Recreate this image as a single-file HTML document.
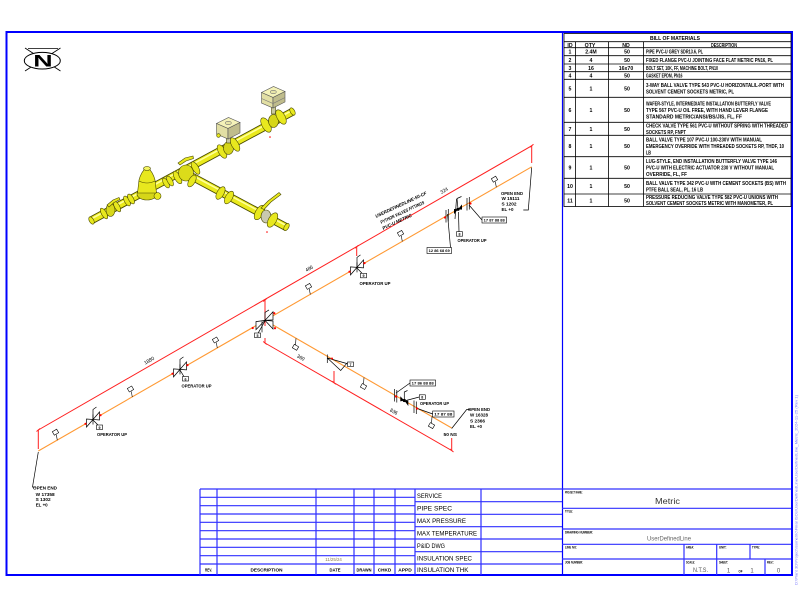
<!DOCTYPE html>
<html><head><meta charset="utf-8"><style>
html,body{margin:0;padding:0;background:#fff;}
svg{display:block;}
text{font-family:"Liberation Sans",sans-serif;}
</style></head><body>
<svg width="800" height="600" viewBox="0 0 800 600" xmlns="http://www.w3.org/2000/svg" xmlns:xlink="http://www.w3.org/1999/xlink">
<defs>
<g id="vm">
<polygon points="0,0 -6.5,-0.5 -6.5,7.5" fill="#fff" stroke="#000" stroke-width="0.7"/>
<polygon points="0,0 6.5,-7.5 6.5,0.5" fill="#fff" stroke="#000" stroke-width="0.7"/>
<line x1="0" y1="-5" x2="0" y2="5" stroke="#000" stroke-width="0.7"/>
<polyline points="0,0 0,-10 3.5,-12.5" fill="none" stroke="#000" stroke-width="0.7"/>
<circle cx="-7.5" cy="4.3" r="1.1" fill="#f00"/>
<circle cx="7.5" cy="-4.3" r="1.1" fill="#f00"/>
</g>
</defs>
<rect width="800" height="600" fill="#fff"/>

<!-- frame -->
<rect x="6.5" y="32" width="785.5" height="543" fill="none" stroke="#0000ff" stroke-width="2"/>
<line x1="562.5" y1="32" x2="562.5" y2="575" stroke="#0000ff" stroke-width="1.2"/>

<!-- BOM table -->
<g stroke="#000" stroke-width="0.8" fill="none">
<rect x="564" y="33.5" width="227" height="173"/>
<line x1="564" y1="41.7" x2="791" y2="41.7"/>
<line x1="564" y1="47.7" x2="791" y2="47.7"/>
<line x1="564" y1="55.7" x2="791" y2="55.7"/>
<line x1="564" y1="64" x2="791" y2="64"/>
<line x1="564" y1="71.7" x2="791" y2="71.7"/>
<line x1="564" y1="79.3" x2="791" y2="79.3"/>
<line x1="564" y1="97.3" x2="791" y2="97.3"/>
<line x1="564" y1="122.3" x2="791" y2="122.3"/>
<line x1="564" y1="135.3" x2="791" y2="135.3"/>
<line x1="564" y1="156.7" x2="791" y2="156.7"/>
<line x1="564" y1="178.3" x2="791" y2="178.3"/>
<line x1="564" y1="194" x2="791" y2="194"/>
<line x1="575.6" y1="41.7" x2="575.6" y2="206.5"/>
<line x1="608.6" y1="41.7" x2="608.6" y2="206.5"/>
<line x1="643.4" y1="41.7" x2="643.4" y2="206.5"/>
</g>
<g font-size="5.2" font-weight="bold" fill="#000">
<text x="675" y="39.8" text-anchor="middle" textLength="50" lengthAdjust="spacingAndGlyphs">BILL OF MATERIALS</text>
<text x="570" y="46.8" text-anchor="middle">ID</text>
<text x="590" y="46.8" text-anchor="middle">QTY</text>
<text x="626" y="46.8" text-anchor="middle">ND</text>
<text x="724" y="46.8" text-anchor="middle" textLength="26" lengthAdjust="spacingAndGlyphs">DESCRIPTION</text>

<text x="570" y="53.7" text-anchor="middle">1</text><text x="591" y="53.7" text-anchor="middle">2.4M</text><text x="627" y="53.7" text-anchor="middle">50</text>
<text x="646" y="53.7" textLength="57" lengthAdjust="spacingAndGlyphs">PIPE PVC-U GREY SDR13.6, PL</text>

<text x="570" y="61.8" text-anchor="middle">2</text><text x="591" y="61.8" text-anchor="middle">4</text><text x="627" y="61.8" text-anchor="middle">50</text>
<text x="646" y="61.8" textLength="127" lengthAdjust="spacingAndGlyphs">FIXED FLANGE PVC-U JOINTING FACE FLAT METRIC PN16, PL</text>

<text x="570" y="69.8" text-anchor="middle">3</text><text x="591" y="69.8" text-anchor="middle">16</text><text x="626" y="69.8" text-anchor="middle">16x70</text>
<text x="646" y="69.8" textLength="72" lengthAdjust="spacingAndGlyphs">BOLT SET, 10K, FF, MACHINE BOLT, PN10</text>

<text x="570" y="77.5" text-anchor="middle">4</text><text x="591" y="77.5" text-anchor="middle">4</text><text x="627" y="77.5" text-anchor="middle">50</text>
<text x="646" y="77.5" textLength="36.5" lengthAdjust="spacingAndGlyphs">GASKET EPDM, PN16</text>

<text x="570" y="90.3" text-anchor="middle">5</text><text x="591" y="90.3" text-anchor="middle">1</text><text x="627" y="90.3" text-anchor="middle">50</text>
<text x="646" y="87" textLength="138" lengthAdjust="spacingAndGlyphs">3-WAY BALL VALVE TYPE 543 PVC-U HORIZONTAL/L-PORT WITH</text>
<text x="646" y="93.5" textLength="88" lengthAdjust="spacingAndGlyphs">SOLVENT CEMENT SOCKETS METRIC, PL</text>

<text x="570" y="111.8" text-anchor="middle">6</text><text x="591" y="111.8" text-anchor="middle">1</text><text x="627" y="111.8" text-anchor="middle">50</text>
<text x="646" y="105.3" textLength="125" lengthAdjust="spacingAndGlyphs">WAFER-STYLE, INTERMEDIATE INSTALLATION BUTTERFLY VALVE</text>
<text x="646" y="111.8" textLength="122" lengthAdjust="spacingAndGlyphs">TYPE 567 PVC-U OIL FREE, WITH HAND LEVER FLANGE</text>
<text x="646" y="118.3" textLength="96" lengthAdjust="spacingAndGlyphs">STANDARD METRIC/ANSI/BS/JIS, FL, FF</text>

<text x="570" y="130.8" text-anchor="middle">7</text><text x="591" y="130.8" text-anchor="middle">1</text><text x="627" y="130.8" text-anchor="middle">50</text>
<text x="646" y="127.6" textLength="142" lengthAdjust="spacingAndGlyphs">CHECK VALVE TYPE 561 PVC-U WITHOUT SPRING WITH THREADED</text>
<text x="646" y="134" textLength="40" lengthAdjust="spacingAndGlyphs">SOCKETS RP, FNPT</text>

<text x="570" y="148" text-anchor="middle">8</text><text x="591" y="148" text-anchor="middle">1</text><text x="627" y="148" text-anchor="middle">50</text>
<text x="646" y="141.5" textLength="116" lengthAdjust="spacingAndGlyphs">BALL VALVE TYPE 107 PVC-U 100-230V WITH MANUAL</text>
<text x="646" y="148" textLength="138" lengthAdjust="spacingAndGlyphs">EMERGENCY OVERRIDE WITH THREADED SOCKETS RP, THDF, 10</text>
<text x="646" y="154.5" textLength="5" lengthAdjust="spacingAndGlyphs">LB</text>

<text x="570" y="169.5" text-anchor="middle">9</text><text x="591" y="169.5" text-anchor="middle">1</text><text x="627" y="169.5" text-anchor="middle">50</text>
<text x="646" y="163" textLength="131" lengthAdjust="spacingAndGlyphs">LUG-STYLE, END INSTALLATION BUTTERFLY VALVE TYPE 146</text>
<text x="646" y="169.5" textLength="128" lengthAdjust="spacingAndGlyphs">PVC-U WITH ELECTRIC ACTUATOR 230 V WITHOUT MANUAL</text>
<text x="646" y="176" textLength="41" lengthAdjust="spacingAndGlyphs">OVERRIDE, FL, FF</text>

<text x="570" y="188.2" text-anchor="middle">10</text><text x="591" y="188.2" text-anchor="middle">1</text><text x="627" y="188.2" text-anchor="middle">50</text>
<text x="646" y="185" textLength="140" lengthAdjust="spacingAndGlyphs">BALL VALVE TYPE 342 PVC-U WITH CEMENT SOCKETS (BS) WITH</text>
<text x="646" y="191.4" textLength="57" lengthAdjust="spacingAndGlyphs">PTFE BALL SEAL, PL, 16 LB</text>

<text x="570" y="202.3" text-anchor="middle">11</text><text x="591" y="202.3" text-anchor="middle">1</text><text x="627" y="202.3" text-anchor="middle">50</text>
<text x="646" y="199.1" textLength="132" lengthAdjust="spacingAndGlyphs">PRESSURE REDUCING VALVE TYPE 582 PVC-U UNIONS WITH</text>
<text x="646" y="205.2" textLength="127" lengthAdjust="spacingAndGlyphs">SOLVENT CEMENT SOCKETS METRIC WITH MANOMETER, PL</text>
</g>

<!-- North symbol -->
<g stroke="#000" stroke-width="0.8">
<line x1="25" y1="48" x2="60.5" y2="71"/>
<line x1="60.5" y1="48" x2="25" y2="71"/>
<line x1="28" y1="48.5" x2="58" y2="48.5"/>
</g>
<ellipse cx="42.3" cy="60.7" rx="18" ry="8.3" fill="#fff" stroke="#000" stroke-width="1"/>
<text x="33.3" y="66.7" font-size="17" font-weight="bold" textLength="19.4" lengthAdjust="spacingAndGlyphs">N</text>

<!-- 3D model -->
<g stroke-linecap="butt">
<line x1="91" y1="220.5" x2="293" y2="111.5" stroke="#4a4a00" stroke-width="8"/>
<line x1="187" y1="174" x2="287" y2="227.5" stroke="#4a4a00" stroke-width="8"/>
<line x1="91" y1="220.5" x2="293" y2="111.5" stroke="#eaea1c" stroke-width="6.2"/>
<line x1="187" y1="174" x2="287" y2="227.5" stroke="#eaea1c" stroke-width="6.2"/>
<line x1="91" y1="219" x2="293" y2="110" stroke="#ffff99" stroke-width="1.6"/>
<line x1="187" y1="172.5" x2="287" y2="226" stroke="#ffff99" stroke-width="1.6"/>
</g>
<g stroke="#4a4a00" stroke-width="0.6" fill="#e8e81e">
<ellipse cx="91.5" cy="220.5" rx="2.2" ry="4" transform="rotate(-30 91.5 220.5)"/>
<ellipse cx="292.5" cy="111.5" rx="2.2" ry="4" transform="rotate(-30 292.5 111.5)"/>
<ellipse cx="286.5" cy="227" rx="2.2" ry="4" transform="rotate(30 286.5 227)"/>
<!-- left ball valve -->
<ellipse cx="104" cy="213.5" rx="2.5" ry="6" transform="rotate(-30 104 213.5)"/>
<ellipse cx="110.5" cy="210" rx="4.5" ry="6.5" fill="#d8d81a"/>
<ellipse cx="117" cy="206.5" rx="2.5" ry="6" transform="rotate(-30 117 206.5)"/>
<polygon points="107,205 113,200 119,197.5 120,199.5 114,202.5 109,207"/>
<!-- union -->
<ellipse cx="127" cy="201" rx="2.5" ry="5.5" transform="rotate(-30 127 201)"/>
<ellipse cx="131" cy="199" rx="2.5" ry="5.5" transform="rotate(-30 131 199)"/>
<!-- pressure reducing valve -->
<ellipse cx="147" cy="194" rx="10" ry="6" fill="#d6d618"/>
<path d="M137.5,193 L139,180 Q141,172 147,166.5 Q153,172 155,180 L156.5,193 Z"/>
<path d="M139,181 Q147,185 155,181" fill="none"/>
<ellipse cx="147" cy="168.5" rx="3.5" ry="2" fill="#f4f460"/>
<circle cx="157.5" cy="196" r="3.5"/>
<!-- union -->
<ellipse cx="166" cy="183" rx="2.5" ry="5.5" transform="rotate(-30 166 183)"/>
<ellipse cx="170" cy="181" rx="2.5" ry="5.5" transform="rotate(-30 170 181)"/>
<!-- 3-way valve -->
<ellipse cx="177.5" cy="177.5" rx="3" ry="7" transform="rotate(-30 177.5 177.5)"/>
<ellipse cx="186" cy="173" rx="7.5" ry="8" fill="#dcdc1a"/>
<ellipse cx="195.5" cy="168" rx="3" ry="7" transform="rotate(-30 195.5 168)"/>
<ellipse cx="192" cy="181" rx="3.2" ry="6.5" transform="rotate(30 192 181)"/>
<polygon points="178,163 185,158 193,156 193.5,158.5 186,161 180,165"/>
<!-- flanged valve 1 -->
<ellipse cx="222" cy="151.5" rx="3.5" ry="7.5" transform="rotate(-30 222 151.5)"/>
<ellipse cx="228.5" cy="148" rx="5" ry="6.5" fill="#d6d618"/>
<ellipse cx="235" cy="144.5" rx="3.5" ry="7.5" transform="rotate(-30 235 144.5)"/>
<rect x="226.5" y="137" width="4" height="6" fill="#c8c8a0"/>
<polygon points="216.5,123.5 228.5,117.5 240,122.5 228,128.5" fill="#f4f2b8" stroke="#555"/>
<polygon points="216.5,123.5 228,128.5 228,139 216.5,134" fill="#e2dfa4" stroke="#555"/>
<polygon points="228,128.5 240,122.5 240,133 228,139" fill="#bfbc8c" stroke="#555"/>
<ellipse cx="228.3" cy="123" rx="3" ry="1.7" fill="#e8e6a8" stroke="#777"/>
<circle cx="218.5" cy="135.5" r="1.8"/>
<!-- flanged valve 2 -->
<ellipse cx="266" cy="125" rx="4" ry="8" transform="rotate(-30 266 125)"/>
<ellipse cx="273.5" cy="121" rx="5" ry="6.5" fill="#d6d618"/>
<ellipse cx="281" cy="117" rx="4" ry="8" transform="rotate(-30 281 117)"/>
<rect x="271.5" y="106" width="4" height="8" fill="#c8c8a0"/>
<polygon points="261.5,92.5 273.5,86.5 285,91.5 273,97.5" fill="#f4f2b8" stroke="#555"/>
<polygon points="261.5,92.5 273,97.5 273,108 261.5,103" fill="#e2dfa4" stroke="#555"/>
<polygon points="273,97.5 285,91.5 285,102 273,108" fill="#bfbc8c" stroke="#555"/>
<polyline points="261.5,98.5 273,103.5 285,97.5" fill="none" stroke="#777"/>
<ellipse cx="273.3" cy="92" rx="3" ry="1.7" fill="#e8e6a8" stroke="#777"/>
<!-- branch union -->
<ellipse cx="220.5" cy="193" rx="3.5" ry="7" transform="rotate(30 220.5 193)"/>
<ellipse cx="229" cy="197.5" rx="3.5" ry="7" transform="rotate(30 229 197.5)"/>
<!-- branch ball valve -->
<ellipse cx="259.5" cy="212.5" rx="4" ry="8" transform="rotate(30 259.5 212.5)"/>
<ellipse cx="266" cy="216.5" rx="5" ry="6.5" fill="#c9c9b0"/>
<ellipse cx="272.5" cy="220" rx="4" ry="8" transform="rotate(30 272.5 220)"/>
<polygon points="261,208 268,201 279,192.5 281,194.5 271,202 264,209.5"/>
</g>
<circle cx="270" cy="137" r="0.8" fill="#f00"/>
<circle cx="267" cy="232" r="0.8" fill="#f00"/>

<!-- ISO: pipes -->
<line x1="38.3" y1="451" x2="531.7" y2="166.8" stroke="#ff9933" stroke-width="1.1"/>
<line x1="265" y1="320.4" x2="451.7" y2="428" stroke="#ff9933" stroke-width="1.1"/>
<!-- red dimension lines -->
<g stroke="#ff2020" stroke-width="1" fill="none">
<polyline points="38.3,449 38.3,430 531.7,145.8 531.7,163"/>
<line x1="265" y1="300" x2="265" y2="326"/>
<line x1="265" y1="338" x2="265" y2="343"/>
<polyline points="265,343 451.7,450.5 451.7,438"/>
<line x1="356.7" y1="246.7" x2="356.7" y2="256"/>
<line x1="334" y1="371" x2="334" y2="382.7"/>
<line x1="36.5" y1="431.5" x2="40.1" y2="428.5"/>
<line x1="263.2" y1="301.5" x2="266.8" y2="298.5"/>
<line x1="354.9" y1="248.2" x2="358.5" y2="245.2"/>
<line x1="529.9" y1="147.3" x2="533.5" y2="144.3"/>
<line x1="263.2" y1="341.5" x2="266.8" y2="344.5"/>
<line x1="332.2" y1="381.2" x2="335.8" y2="384.2"/>
<line x1="449.9" y1="449" x2="453.5" y2="452"/>
</g>

<!-- dimension texts -->
<g font-size="5" fill="#000">
<text transform="translate(150,362) rotate(-30)" text-anchor="middle" textLength="11" lengthAdjust="spacingAndGlyphs">1880</text>
<text transform="translate(310,270) rotate(-30)" text-anchor="middle" textLength="8" lengthAdjust="spacingAndGlyphs">486</text>
<text transform="translate(445,192) rotate(-30)" text-anchor="middle" textLength="8" lengthAdjust="spacingAndGlyphs">324</text>
<text transform="translate(300,359) rotate(30)" text-anchor="middle" textLength="8" lengthAdjust="spacingAndGlyphs">360</text>
<text transform="translate(393,413) rotate(30)" text-anchor="middle" textLength="8" lengthAdjust="spacingAndGlyphs">836</text>
</g>
<g font-size="4.6" font-weight="bold" fill="#000">
<text transform="translate(376,218) rotate(-25) skewX(-10)" textLength="56" lengthAdjust="spacingAndGlyphs">USERDEFINEDLINE-50-CF</text>
<text transform="translate(381,224) rotate(-25) skewX(-10)" textLength="48" lengthAdjust="spacingAndGlyphs">PYTHON VALVES FITTINGS</text>
<text transform="translate(383,230) rotate(-25) skewX(-10)" textLength="32" lengthAdjust="spacingAndGlyphs">PVC-U METRIC</text>
</g>

<!-- pipe labels -->
<g fill="#fff" stroke="#000" stroke-width="0.6">
<line x1="57.3" y1="440.2" x2="56.3" y2="434.7"/><rect x="-2.5" y="-2" width="5" height="4" transform="translate(55.5,432.2) rotate(-30)"/>
<line x1="132.3" y1="397" x2="131.3" y2="391.5"/><rect x="-2.5" y="-2" width="5" height="4" transform="translate(130.5,389) rotate(-30)"/>
<line x1="217.3" y1="348" x2="216.3" y2="342.5"/><rect x="-2.5" y="-2" width="5" height="4" transform="translate(215.5,340) rotate(-30)"/>
<line x1="310.3" y1="294.4" x2="309.3" y2="288.9"/><rect x="-2.5" y="-2" width="5" height="4" transform="translate(308.5,286.4) rotate(-30)"/>
<line x1="402.3" y1="241.4" x2="401.3" y2="235.9"/><rect x="-2.5" y="-2" width="5" height="4" transform="translate(400.5,233.4) rotate(-30)"/>
<line x1="496.3" y1="187.2" x2="495.3" y2="181.7"/><rect x="-2.5" y="-2" width="5" height="4" transform="translate(494.5,179.2) rotate(-30)"/>
<line x1="296" y1="338.3" x2="295.5" y2="345"/><rect x="-2.5" y="-2" width="5" height="4" transform="translate(295.5,347.3) rotate(30)"/>
<line x1="364" y1="377.5" x2="363.5" y2="384.2"/><rect x="-2.5" y="-2" width="5" height="4" transform="translate(363.5,386.5) rotate(30)"/>
<line x1="432" y1="416.6" x2="431.5" y2="423.3"/><rect x="-2.5" y="-2" width="5" height="4" transform="translate(431.5,425.6) rotate(30)"/>
</g>

<!-- valves -->
<use xlink:href="#vm" href="#vm" x="93" y="419.5"/>
<use xlink:href="#vm" href="#vm" x="180" y="369.4"/>
<use xlink:href="#vm" href="#vm" x="357" y="267.4"/>
<!-- 3-way -->
<g transform="translate(265,320.4)" fill="#fff" stroke="#000" stroke-width="0.7">
<polygon points="0,0 -9,1.2 -9,9.2"/>
<polygon points="0,0 8,-8.6 8,-0.6"/>
<polygon points="0,0 8,0.6 8,8.6"/>
<polyline points="0,0 0,-8 4,-10.5" fill="none"/>
<line x1="-3" y1="1" x2="-3" y2="12"/>
<circle cx="-12.3" cy="7.6" r="1.1" fill="#f00" stroke="none"/>
<circle cx="9.3" cy="-7.2" r="1.1" fill="#f00" stroke="none"/>
<circle cx="10" cy="7.8" r="1.1" fill="#f00" stroke="none"/>
</g>
<!-- check valve -->
<g fill="none" stroke="#000" stroke-width="0.7">
<line x1="327.3" y1="354.5" x2="327.3" y2="363"/>
<polygon points="327.3,358 346.7,363.5 340.7,370.5"/>
<line x1="346.7" y1="363.5" x2="348" y2="364"/>
</g>
<!-- flanges -->
<g stroke="#000" stroke-width="0.7">
<line x1="446" y1="210" x2="446" y2="222.5"/><line x1="448.3" y1="209" x2="448.3" y2="221.5"/>
<line x1="467" y1="198" x2="467" y2="210.5"/><line x1="469.3" y1="197" x2="469.3" y2="209.5"/>
<line x1="394.5" y1="389" x2="394.5" y2="401.5"/><line x1="396.8" y1="390" x2="396.8" y2="402.5"/>
<line x1="414" y1="400.5" x2="414" y2="413"/><line x1="416.3" y1="401.5" x2="416.3" y2="414"/>
<!-- leaders -->
<line x1="447.5" y1="214" x2="450.5" y2="247.5"/>
<line x1="469" y1="205" x2="482" y2="220"/>
<line x1="396" y1="393" x2="410" y2="383"/>
<line x1="416" y1="408" x2="432.7" y2="414"/>
<!-- black valve main -->
<line x1="456.5" y1="199" x2="455" y2="219"/>
<polyline points="458,209 457,198.5 461.5,196.5" fill="none"/>
<line x1="458.5" y1="212" x2="459" y2="231.7"/>
<!-- black valve branch -->
<polyline points="404.3,400.5 404.3,392 407.5,390.5" fill="none"/>
<line x1="406" y1="400.5" x2="419.3" y2="397"/>
<!-- open end leaders -->
<polyline points="38.3,452 32.5,487 36,487" fill="none"/>
<polyline points="531.7,167.5 528.3,210 523.3,210" fill="none"/>
<polyline points="451.7,428.5 466.7,409.5 470,409.5" fill="none"/>
<line x1="265" y1="321" x2="258" y2="333.3"/>
<line x1="357" y1="268" x2="362" y2="273.3"/>
<line x1="93" y1="420" x2="98" y2="425"/>
<line x1="180" y1="370" x2="184" y2="376.7"/>
</g>
<g fill="#000">
<polygon points="458,209.3 454,209 454,214.2"/>
<polygon points="458,209.3 462,204.4 462,209.6"/>
<circle cx="458" cy="209.3" r="1.6"/>
<polygon points="404.3,400.5 400.3,396.2 400.3,401.4"/>
<polygon points="404.3,400.5 408.3,400.8 408.3,406"/>
<circle cx="404.3" cy="400.5" r="1.6"/>
</g>
<g fill="#f00">
<circle cx="445" cy="217.5" r="1.1"/>
<circle cx="470.5" cy="203.5" r="1.1"/>
<circle cx="396" cy="396.5" r="1.1"/>
<circle cx="417" cy="408.5" r="1.1"/>
<circle cx="332" cy="358.5" r="1"/>
</g>

<!-- small number boxes -->
<g fill="#fff" stroke="#000" stroke-width="0.6">
<rect x="96.5" y="425" width="6" height="4.5"/>
<rect x="182.5" y="376.5" width="6" height="4.5"/>
<rect x="254.5" y="333" width="6" height="4.5"/>
<rect x="360.5" y="273.3" width="6" height="4.5"/>
<rect x="347.5" y="362" width="6" height="4.5"/>
<rect x="456.5" y="231.7" width="6" height="4.5"/>
<rect x="419.3" y="394.8" width="6" height="4.5"/>
<rect x="427" y="247.5" width="24.5" height="6"/>
<rect x="482" y="217" width="24.5" height="6"/>
<rect x="410" y="380" width="25.5" height="6"/>
<rect x="432.7" y="411" width="21.3" height="6"/>
</g>
<g font-size="3.6" font-weight="bold" fill="#000" text-anchor="middle">
<text x="99.5" y="428.8">9</text>
<text x="185.5" y="380.3">6</text>
<text x="257.5" y="336.8">5</text>
<text x="363.5" y="277">9</text>
<text x="350.5" y="365.8">7</text>
<text x="459.5" y="235.5">8</text>
<text x="422.3" y="398.6">8</text>
<text x="439.2" y="252" textLength="21" lengthAdjust="spacingAndGlyphs">12 86 68 69</text>
<text x="494.2" y="221.5" textLength="21" lengthAdjust="spacingAndGlyphs">17 87 88 88</text>
<text x="422.7" y="384.5" textLength="22" lengthAdjust="spacingAndGlyphs">17 86 88 88</text>
<text x="443.3" y="415.5" textLength="18" lengthAdjust="spacingAndGlyphs">17 87 88</text>
</g>

<!-- iso labels -->
<g font-size="4.6" font-weight="bold" fill="#000">
<text x="97" y="436" textLength="30" lengthAdjust="spacingAndGlyphs">OPERATOR UP</text>
<text x="181.5" y="387.6" textLength="30" lengthAdjust="spacingAndGlyphs">OPERATOR UP</text>
<text x="359.5" y="285" textLength="31" lengthAdjust="spacingAndGlyphs">OPERATOR UP</text>
<text x="457.5" y="242" textLength="29" lengthAdjust="spacingAndGlyphs">OPERATOR UP</text>
<text x="420" y="405" textLength="29" lengthAdjust="spacingAndGlyphs">OPERATOR UP</text>
<text x="33" y="489.5" textLength="24" lengthAdjust="spacingAndGlyphs">OPEN END</text>
<text x="35.7" y="495.8" textLength="19" lengthAdjust="spacingAndGlyphs">W 17358</text>
<text x="35.7" y="501.2" textLength="15" lengthAdjust="spacingAndGlyphs">S 1302</text>
<text x="35.7" y="506.6" textLength="12" lengthAdjust="spacingAndGlyphs">EL +0</text>
<text x="501" y="194.8" textLength="22" lengthAdjust="spacingAndGlyphs">OPEN END</text>
<text x="501.5" y="200.2" textLength="18" lengthAdjust="spacingAndGlyphs">W 15111</text>
<text x="501.5" y="205.6" textLength="15" lengthAdjust="spacingAndGlyphs">S 1202</text>
<text x="501.5" y="211" textLength="12" lengthAdjust="spacingAndGlyphs">EL +0</text>
<text x="468" y="410.8" textLength="22" lengthAdjust="spacingAndGlyphs">OPEN END</text>
<text x="470" y="416.6" textLength="18" lengthAdjust="spacingAndGlyphs">W 16328</text>
<text x="470" y="422.4" textLength="15" lengthAdjust="spacingAndGlyphs">S 2366</text>
<text x="470" y="428.2" textLength="12" lengthAdjust="spacingAndGlyphs">EL +0</text>
<text x="443.5" y="436" textLength="13.5" lengthAdjust="spacingAndGlyphs">50 NS</text>
</g>

<!-- title block left -->
<g stroke="#3030ff" stroke-width="1.2" fill="none">
<line x1="200" y1="489" x2="562" y2="489"/>
<line x1="200" y1="497.3" x2="415" y2="497.3"/>
<line x1="200" y1="505.7" x2="415" y2="505.7"/>
<line x1="200" y1="514" x2="415" y2="514"/>
<line x1="200" y1="522.3" x2="415" y2="522.3"/>
<line x1="200" y1="530.7" x2="415" y2="530.7"/>
<line x1="200" y1="539" x2="415" y2="539"/>
<line x1="200" y1="547.3" x2="415" y2="547.3"/>
<line x1="200" y1="555.7" x2="415" y2="555.7"/>
<line x1="200" y1="564" x2="415" y2="564"/>
<line x1="415" y1="501.7" x2="562" y2="501.7"/>
<line x1="415" y1="514.3" x2="562" y2="514.3"/>
<line x1="415" y1="526.7" x2="562" y2="526.7"/>
<line x1="415" y1="539" x2="562" y2="539"/>
<line x1="415" y1="551.7" x2="562" y2="551.7"/>
<line x1="415" y1="564" x2="562" y2="564"/>
<line x1="200" y1="489" x2="200" y2="575"/>
<line x1="217" y1="489" x2="217" y2="575"/>
<line x1="316" y1="489" x2="316" y2="575"/>
<line x1="354" y1="489" x2="354" y2="575"/>
<line x1="374" y1="489" x2="374" y2="575"/>
<line x1="395" y1="489" x2="395" y2="575"/>
<line x1="415" y1="489" x2="415" y2="575"/>
<line x1="481" y1="489" x2="481" y2="575"/>
<!-- right block -->
<line x1="562" y1="489" x2="791" y2="489"/>
<line x1="562" y1="508.3" x2="791" y2="508.3"/>
<line x1="562" y1="529" x2="791" y2="529"/>
<line x1="562" y1="544.3" x2="791" y2="544.3"/>
<line x1="562" y1="559" x2="791" y2="559"/>
<line x1="684" y1="544.3" x2="684" y2="575"/>
<line x1="716.7" y1="544.3" x2="716.7" y2="575"/>
<line x1="750" y1="544.3" x2="750" y2="559"/>
<line x1="765" y1="559" x2="765" y2="575"/>
</g>
<g font-size="6.3" fill="#000">
<text x="417" y="498" textLength="25" lengthAdjust="spacingAndGlyphs">SERVICE</text>
<text x="417" y="510.5" textLength="35" lengthAdjust="spacingAndGlyphs">PIPE SPEC</text>
<text x="417" y="523" textLength="49" lengthAdjust="spacingAndGlyphs">MAX PRESSURE</text>
<text x="417" y="535.4" textLength="60" lengthAdjust="spacingAndGlyphs">MAX TEMPERATURE</text>
<text x="417" y="547.8" textLength="28" lengthAdjust="spacingAndGlyphs">P&amp;ID DWG</text>
<text x="417" y="560.3" textLength="55" lengthAdjust="spacingAndGlyphs">INSULATION SPEC</text>
<text x="417" y="571.8" textLength="51.5" lengthAdjust="spacingAndGlyphs">INSULATION THK</text>
</g>
<g font-size="4.6" font-weight="bold" fill="#000" text-anchor="middle">
<text x="208.5" y="571.5" textLength="7" lengthAdjust="spacingAndGlyphs">REV.</text>
<text x="266.5" y="571.5" textLength="32" lengthAdjust="spacingAndGlyphs">DESCRIPTION</text>
<text x="335" y="571.5" textLength="11" lengthAdjust="spacingAndGlyphs">DATE</text>
<text x="364" y="571.5" textLength="15" lengthAdjust="spacingAndGlyphs">DRAWN</text>
<text x="384.5" y="571.5" textLength="13.5" lengthAdjust="spacingAndGlyphs">CHKD</text>
<text x="405" y="571.5" textLength="13.5" lengthAdjust="spacingAndGlyphs">APPD</text>
</g>
<text x="333.5" y="561" font-size="4.6" fill="#8a7a50" text-anchor="middle" textLength="16.5" lengthAdjust="spacingAndGlyphs">11/25/24</text>

<g font-size="3.4" font-weight="bold" fill="#000">
<text x="565" y="493.6" textLength="17.5" lengthAdjust="spacingAndGlyphs">PROJECT NAME:</text>
<text x="565" y="512.6" textLength="8" lengthAdjust="spacingAndGlyphs">TITLE:</text>
<text x="565" y="533.3" textLength="28" lengthAdjust="spacingAndGlyphs">DRAWING NUMBER:</text>
<text x="565" y="548.6" textLength="12" lengthAdjust="spacingAndGlyphs">LINE NO:</text>
<text x="686" y="548.6" textLength="8" lengthAdjust="spacingAndGlyphs">AREA:</text>
<text x="719" y="548.6" textLength="7.5" lengthAdjust="spacingAndGlyphs">UNIT:</text>
<text x="752" y="548.6" textLength="8" lengthAdjust="spacingAndGlyphs">TYPE:</text>
<text x="565" y="563.3" textLength="18" lengthAdjust="spacingAndGlyphs">JOB NUMBER:</text>
<text x="686" y="563.3" textLength="9" lengthAdjust="spacingAndGlyphs">SCALE:</text>
<text x="719" y="563.3" textLength="9" lengthAdjust="spacingAndGlyphs">SHEET:</text>
<text x="767" y="563.3" textLength="7" lengthAdjust="spacingAndGlyphs">REV.:</text>
<text x="738.5" y="572.5" textLength="4" lengthAdjust="spacingAndGlyphs">OF</text>
</g>
<text x="667.5" y="504" font-size="8" fill="#333" text-anchor="middle" textLength="25" lengthAdjust="spacingAndGlyphs">Metric</text>
<text x="669" y="540.3" font-size="6.5" fill="#666" text-anchor="middle" textLength="44" lengthAdjust="spacingAndGlyphs">UserDefinedLine</text>
<g font-size="6" fill="#555" text-anchor="middle">
<text x="700.5" y="571.8" textLength="15" lengthAdjust="spacingAndGlyphs">N.T.S.</text>
<text x="728.5" y="572.5">1</text>
<text x="752" y="572.5">1</text>
<text x="778.5" y="572.5">0</text>
</g>

<!-- right edge vertical text -->
<text transform="translate(797.5,585) rotate(-90)" font-size="4" fill="#7c7cff" textLength="190" lengthAdjust="spacingAndGlyphs">D:\Plant 3D\Project\Isometric\Final ISOs\UserDefinedLine\UserDefinedLine_Metric_2024-11-25 (Rev 1)</text>
</svg>
</body></html>
